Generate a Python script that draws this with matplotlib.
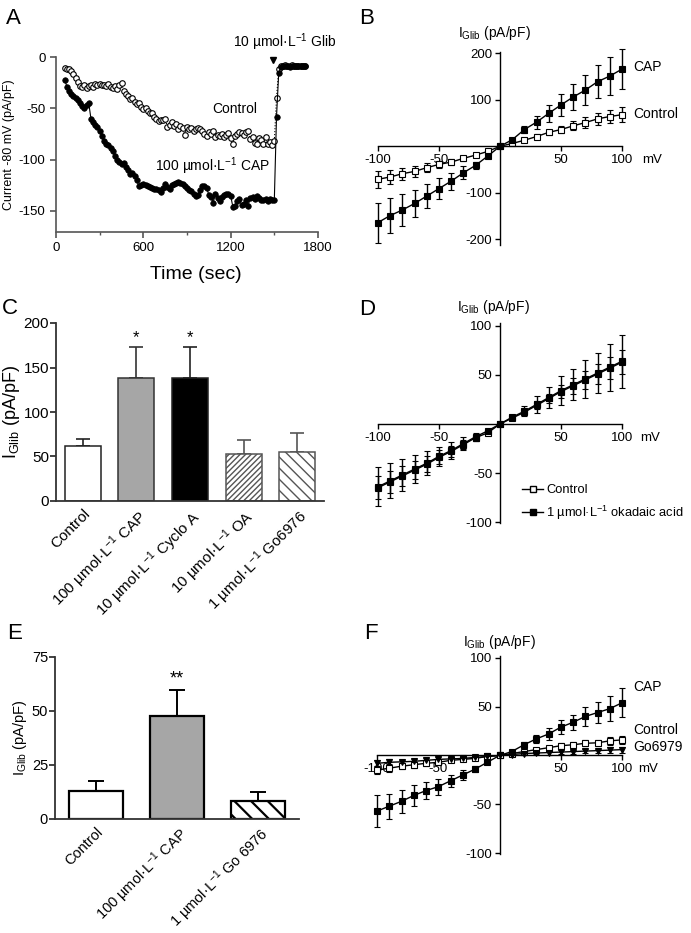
import matplotlib.pyplot as plt
import numpy as np
from matplotlib.lines import Line2D

plt.rcParams['font.family'] = ['Liberation Sans', 'DejaVu Sans']
plt.rcParams['mathtext.fontset'] = 'custom'
plt.rcParams['mathtext.rm'] = 'Liberation Sans'
plt.rcParams['mathtext.it'] = 'Liberation Sans:italic'
plt.rcParams['mathtext.bf'] = 'Liberation Sans:bold'
plt.rcParams['axes.unicode_minus'] = False
plt.rcParams['font.size'] = 9

# ---------------- data ----------------
# Panel A: time course, sampled every 15 s starting at 60 s
ctrl_A = [-11, -12, -12, -14, -17, -20, -24, -28, -29, -27, -30, -28, -27, -29, -26, -27,
          -26, -27, -27, -28, -26, -29, -30, -28, -31, -27, -25, -33, -36, -38, -41, -40,
          -44, -46, -45, -49, -51, -50, -53, -55, -55, -58, -60, -62, -61, -61, -60, -68,
          -66, -63, -67, -65, -70, -67, -69, -76, -68, -70, -69, -72, -70, -69, -70, -72,
          -75, -77, -73, -75, -72, -78, -76, -77, -75, -78, -76, -74, -79, -85, -77, -75,
          -73, -74, -76, -73, -72, -80, -78, -84, -85, -79, -81, -85, -78, -85, -83, -86,
          -82, -40, -12, -9, -9, -8, -9, -9, -8, -9, -9, -9, -9, -9, -9]
cap_A = [-22, -29, -33, -36, -38, -40, -42, -45, -48, -50, -47, -45, -60, -63, -66, -68,
         -72, -77, -82, -85, -86, -89, -92, -96, -100, -102, -104, -103, -107, -110, -114, -113,
         -116, -120, -126, -125, -124, -125, -126, -127, -128, -129, -129, -130, -132, -128, -124, -127,
         -129, -125, -124, -123, -122, -123, -124, -126, -128, -130, -131, -133, -135, -134, -130, -126,
         -126, -128, -134, -136, -142, -133, -137, -140, -136, -134, -133, -133, -135, -146, -145, -140,
         -138, -144, -143, -139, -145, -137, -136, -138, -135, -137, -139, -139, -138, -140, -138, -139,
         -139, -58, -16, -10, -9, -9, -9, -10, -9, -9, -9, -9, -9, -9, -9]

# Panels B, D, F: I-V relationships
volts = [-100, -90, -80, -70, -60, -50, -40, -30, -20, -10, 0,
         10, 20, 30, 40, 50, 60, 70, 80, 90, 100]

cap_B = [-164, -149, -137, -123, -107, -91, -75, -57, -41, -21, 0,
         14, 36, 52, 71, 89, 106, 121, 139, 151, 166]
cap_B_err = [43, 37, 34, 30, 26, 23, 18, 14, 8, 3, 0,
             3, 8, 14, 18, 23, 28, 33, 36, 41, 43]
ctrl_B = [-71, -66, -59, -54, -46, -39, -34, -26, -19, -11, 0,
          6, 13, 21, 30, 36, 44, 51, 59, 64, 68]
ctrl_B_err = [18, 15, 13, 12, 10, 8, 6, 5, 3, 2, 0,
              2, 3, 5, 6, 8, 10, 12, 13, 15, 16]

ctrl_D = [-65, -59, -53, -47, -41, -34, -28, -21, -14, -9, 0,
          6, 12, 19, 26, 33, 39, 45, 51, 57, 63]
ctrl_D_err = [12, 11, 10, 9, 8, 7, 6, 5, 3, 1, 0,
              1, 3, 4, 5, 7, 8, 9, 10, 11, 12]
oa_D = [-64, -58, -52, -46, -40, -33, -27, -20, -13, -7, 0,
        7, 13, 20, 27, 34, 40, 46, 52, 58, 64]
oa_D_err = [20, 18, 16, 14, 12, 10, 9, 7, 4, 2, 0,
            2, 5, 9, 11, 15, 16, 19, 20, 24, 27]

cap_F = [-57, -52, -47, -41, -36, -32, -26, -20, -14, -7, 0,
         4, 11, 17, 22, 29, 34, 40, 44, 48, 54]
cap_F_err = [16, 13, 12, 11, 9, 8, 6, 5, 3, 2, 0,
             1, 3, 4, 6, 7, 8, 10, 11, 13, 15]
ctrl_F = [-15, -13, -11, -9.5, -8, -7, -5, -4, -3, -1, 0,
          2, 4, 6, 8, 10, 11, 12.5, 13, 15, 16]
ctrl_F_err = [4, 4, 3, 3, 3, 3, 2, 2, 2, 1, 0,
              1, 2, 2, 2, 3, 3, 3, 3, 4, 4]
go_F = [-8, -7, -6.5, -6, -5, -4, -3.5, -3, -2, -1, 0,
        1, 2, 2.5, 3, 3.5, 4, 4.5, 5, 5.5, 6]
go_F_err = [3, 3, 2, 2, 2, 2, 2, 1, 1, 1, 0,
            1, 1, 1, 2, 2, 2, 2, 2, 3, 3]

# Panel C: bars
labels_C = ['Control', '100 µmol·L$^{-1}$ CAP', '10 µmol·L$^{-1}$ Cyclo A',
            '10 µmol·L$^{-1}$ OA', '1 µmol·L$^{-1}$ Go6976']
means_C = [61.5, 138.5, 138, 53, 55.5]
errs_C = [8.5, 35, 34.5, 15.5, 21]

# Panel E: bars
labels_E = ['Control', '100 µmol·L$^{-1}$ CAP', '1 µmol·L$^{-1}$ Go 6976']
means_E = [12.9, 47.7, 8.2]
errs_E = [4.7, 12.2, 4.1]

# ---------------- layout ----------------
W, H = 691, 933
fig = plt.figure(figsize=(W / 100, H / 100), dpi=100)


def px_axes(left, top, right, bottom):
    return fig.add_axes([left / W, 1 - bottom / H, (right - left) / W, (bottom - top) / H])


def ftext(x, y, s, **kw):
    return fig.text(x / W, 1 - y / H, s, **kw)


GLIB = 'I$_{\\mathrm{Glib}}$ (pA/pF)'

# ---------------- panel A ----------------
axA = px_axes(56, 57, 318, 231.5)
tA_ctrl = 60 + 15 * np.arange(len(ctrl_A))
tA_cap = 60 + 15 * np.arange(len(cap_A))
axA.plot(tA_ctrl, ctrl_A, ls=':', color='k', lw=0.8, marker='o', mfc='white',
         mec='k', ms=4.0, mew=0.8, clip_on=False)
axA.plot(tA_cap, cap_A, ls='-', color='k', lw=0.8, marker='o', mfc='k',
         mec='k', ms=4.0, mew=0.5, clip_on=False)
axA.set_xlim(0, 1800)
axA.set_ylim(-170, 0)
axA.set_xticks([0, 600, 1200, 1800])
axA.set_xticks([300, 900, 1500], minor=True)
axA.set_yticks([0, -50, -100, -150])
for s in ['top', 'right']:
    axA.spines[s].set_visible(False)
for s in ['left', 'bottom']:
    axA.spines[s].set_color('#555555')
    axA.spines[s].set_linewidth(1.2)
axA.tick_params(colors='#555555', labelcolor='k', labelsize=9.5, length=4, width=1.2)
axA.tick_params(which='minor', length=2.5, width=1.0, colors='#555555')
axA.set_xlabel('Time (sec)', fontsize=14)
axA.xaxis.set_label_coords(0.534, -0.2)
axA.set_ylabel('Current -80 mV (pA/pF)', fontsize=9, labelpad=3)
axA.text(1230, -51, 'Control', fontsize=10, ha='center', va='center')
axA.text(1072, -106, '100 µmol·L$^{-1}$ CAP', fontsize=10, ha='center', va='center')
axA.plot([1490], [-3], marker='v', color='k', ms=5, clip_on=False)
axA.text(1570, 4, '10 µmol·L$^{-1}$ Glib', fontsize=10, ha='center', va='bottom')


# ---------------- IV panel helper ----------------
def iv_axes(ax, ylim, yticks, xpos_mv, ypos_mv):
    ax.set_xlim(-100, 100)
    ax.set_ylim(*ylim)
    ax.spines['left'].set_position(('data', 0))
    ax.spines['bottom'].set_position(('data', 0))
    for s in ['top', 'right']:
        ax.spines[s].set_visible(False)
    for s in ['left', 'bottom']:
        ax.spines[s].set_linewidth(1.0)
    ax.set_xticks([-100, -50, 50, 100])
    ax.set_yticks(yticks)
    ax.tick_params(labelsize=9.5, length=3.5, width=1.0, pad=2)
    ax.patch.set_alpha(0)
    ftext(xpos_mv, ypos_mv, 'mV', fontsize=9.5, ha='left', va='center')


def iv_series(ax, y, err, mfc, marker='s', ms=4.2):
    eb = ax.errorbar(volts, y, yerr=err, color='k', lw=1.0, marker=marker, ms=ms,
                     mfc=mfc, mec='k', mew=0.8, capsize=2.5, capthick=1.0, elinewidth=1.0)
    for a in eb.get_children():
        a.set_clip_on(False)


# ---------------- panel B ----------------
axB = px_axes(378, 51.9, 622, 245.3)
iv_series(axB, ctrl_B, ctrl_B_err, 'white', ms=3.8)
iv_series(axB, cap_B, cap_B_err, 'k', ms=4.4)
iv_axes(axB, (-213, 203), [-200, -100, 100, 200], 642, 160)
ftext(494, 33, GLIB, fontsize=10, ha='center', va='center')
ftext(633, 67, 'CAP', fontsize=10, ha='left', va='center')
ftext(633, 114, 'Control', fontsize=10, ha='left', va='center')

# ---------------- panel D ----------------
axD = px_axes(378, 323, 622, 523)
iv_series(axD, ctrl_D, ctrl_D_err, 'white', ms=3.8)
iv_series(axD, oa_D, oa_D_err, 'k', ms=4.2)
iv_axes(axD, (-101, 103), [-100, -50, 50, 100], 640, 438)
ftext(493, 307, GLIB, fontsize=10, ha='center', va='center')
handles = [Line2D([], [], color='k', lw=1.0, marker='s', ms=3.8, mfc='white', mec='k'),
           Line2D([], [], color='k', lw=1.0, marker='s', ms=4.2, mfc='k', mec='k')]
fig.legend(handles, ['Control', '1 µmol·L$^{-1}$ okadaic acid'], loc='upper left',
           bbox_to_anchor=(516 / W, 1 - 478 / H), frameon=False, fontsize=9.3,
           handlelength=1.6, handletextpad=0.25, labelspacing=0.55, borderpad=0)

# ---------------- panel F ----------------
axF = px_axes(377, 656, 622, 854)
iv_series(axF, cap_F, cap_F_err, 'k', ms=4.2)
iv_series(axF, ctrl_F, ctrl_F_err, 'white', ms=3.8)
iv_series(axF, go_F, go_F_err, 'k', marker='v', ms=4.4)
iv_axes(axF, (-101, 102), [-100, -50, 50, 100], 638, 769)
ftext(499, 642, GLIB, fontsize=10, ha='center', va='center')
ftext(633, 687, 'CAP', fontsize=10, ha='left', va='center')
ftext(633, 730, 'Control', fontsize=10, ha='left', va='center')
ftext(633, 747, 'Go6979', fontsize=10, ha='left', va='center')


# ---------------- bar panel helper ----------------
def bar_axes(ax, n, ylim, yticks, labels, fs):
    ax.set_xlim(-0.5, n - 0.5)
    ax.set_ylim(*ylim)
    ax.set_yticks(yticks)
    ax.set_xticks(range(n))
    ax.set_xticklabels(labels, rotation=45, ha='right', rotation_mode='anchor', fontsize=fs)
    for s in ['top', 'right']:
        ax.spines[s].set_visible(False)
    for s in ['left', 'bottom']:
        ax.spines[s].set_linewidth(1.3)
        ax.spines[s].set_color('#333333')
    ax.tick_params(axis='x', length=0, pad=4)
    ax.tick_params(axis='y', labelsize=fs, length=4, width=1.3, colors='#333333',
                   labelcolor='k', pad=1)


# ---------------- panel C ----------------
axC = px_axes(56, 323, 324, 501)
faces_C = ['white', '#a6a6a6', 'black', 'white', 'white']
edges_C = ['#222222', '#333333', '#222222', '#555555', '#555555']
hatch_C = [None, None, None, '//////', '\\\\\\']
for i in range(len(means_C)):
    axC.bar(i, means_C[i], width=0.67, color=faces_C[i], edgecolor=edges_C[i],
            hatch=hatch_C[i], linewidth=1.1, zorder=2)
    axC.errorbar(i, means_C[i], yerr=[[0], [errs_C[i]]], color=edges_C[i], lw=1.2,
                 capsize=5, capthick=1.2, zorder=1)
bar_axes(axC, len(means_C), (0, 200), [0, 50, 100, 150, 200], labels_C, 11)
axC.set_ylabel(GLIB, fontsize=13, labelpad=1)
for i in [1, 2]:
    axC.text(i, 184, '*', ha='center', va='center', fontsize=12)

# ---------------- panel E ----------------
axE = px_axes(55, 657, 299, 819)
faces_E = ['white', '#a6a6a6', 'white']
hatch_E = [None, None, '\\\\']
plt.rcParams['hatch.linewidth'] = 1.6
for i in range(len(means_E)):
    axE.bar(i, means_E[i], width=0.66, color=faces_E[i], edgecolor='k',
            hatch=hatch_E[i], linewidth=1.6, zorder=2)
    axE.errorbar(i, means_E[i], yerr=[[0], [errs_E[i]]], color='k', lw=1.4,
                 capsize=6, capthick=1.4, zorder=1)
bar_axes(axE, len(means_E), (0, 75), [0, 25, 50, 75], labels_E, 10.5)
axE.set_ylabel(GLIB, fontsize=10.5, labelpad=2)
axE.text(1, 65, '**', ha='center', va='center', fontsize=13)

# ---------------- panel letters ----------------
for x, y, s in [(6, 24, 'A'), (359, 24, 'B'), (2, 314, 'C'), (359, 315, 'D'),
                (7, 639, 'E'), (364, 639, 'F')]:
    ftext(x, y, s, fontsize=16, ha='left', va='baseline')

fig.savefig('out.png', dpi=100)
